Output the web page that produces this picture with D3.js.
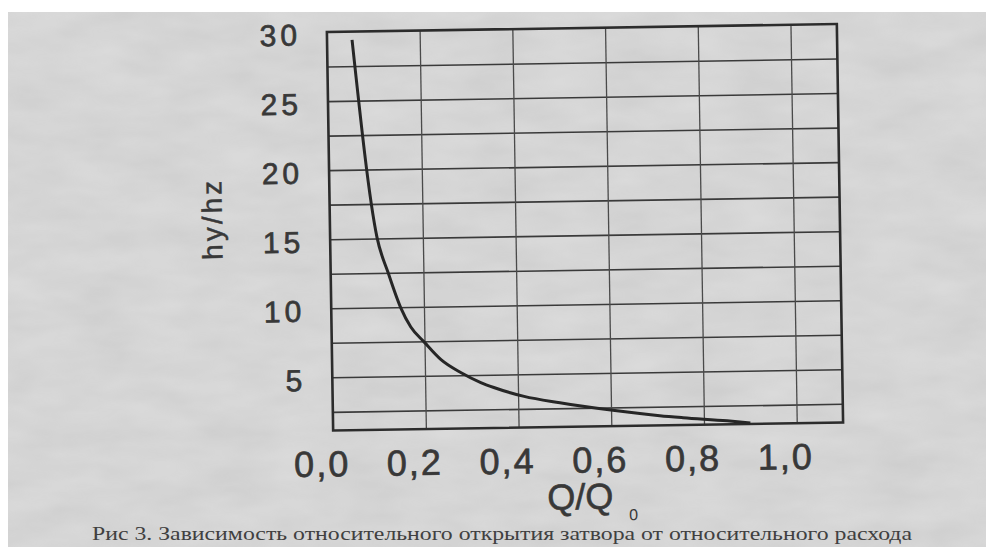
<!DOCTYPE html>
<html>
<head>
<meta charset="utf-8">
<script src="https://cdn.jsdelivr.net/npm/d3@7"></script>
<style>
  body { margin: 0; background: #fff; }
  svg { display: block; }
</style>
</head>
<body>
<svg id="chart" width="986" height="547"></svg>
<script>
/* values */
var qRel = [0.054, 0.101, 0.124, 0.150, 0.171, 0.199, 0.235, 0.278, 0.320, 0.348, 0.413, 0.490, 0.604, 0.705, 0.755, 0.850, 0.900];
var hRel = [29.4, 15.1, 12.5, 9.95, 8.55, 7.46, 6.15, 5.18, 4.45, 4.08, 3.40, 2.90, 2.30, 1.85, 1.68, 1.40, 1.22];

var xTicks = [0, 0.2, 0.4, 0.6, 0.8, 1.0];
var xTickLabels = ["0,0", "0,2", "0,4", "0,6", "0,8", "1,0"];
var yTicks = [5, 10, 15, 20, 25, 30];
var xGrid = [0.2, 0.4, 0.6, 0.8, 1.0];
var yGrid = [2.5, 5, 7.5, 10, 12.5, 15, 17.5, 20, 22.5, 25, 27.5];

var caption = "Рис 3. Зависимость относительного открытия затвора от относительного расхода";

var svg = d3.select("#chart");
var sans = "Liberation Sans, Arial, sans-serif";
var ink = "#383838";

/* paper */
var defs = svg.append("defs");
var flt = defs.append("filter").attr("id", "paper")
    .attr("x", 0).attr("y", 0).attr("width", "100%").attr("height", "100%");
flt.append("feTurbulence").attr("type", "fractalNoise")
    .attr("baseFrequency", "0.015 0.04").attr("numOctaves", 3).attr("seed", 4);
flt.append("feColorMatrix").attr("type", "matrix")
    .attr("values", "0 0 0 0 0.4  0 0 0 0 0.4  0 0 0 0 0.4  0 0 0 0.6 -0.1");

svg.append("rect").attr("width", 986).attr("height", 547).attr("fill", "#fff");
svg.append("rect").attr("x", 8).attr("y", 12).attr("width", 978).attr("height", 535)
    .attr("fill", "#dadada");
svg.append("rect").attr("x", 8).attr("y", 12).attr("width", 978).attr("height", 535)
    .attr("filter", "url(#paper)").attr("opacity", 0.5);

/* whole scan is tilted a little */
var g = svg.append("g").attr("transform", "rotate(-0.9,585,228)");

var x = d3.scaleLinear().domain([0, 1.1]).range([330, 840]);
var y = d3.scaleLinear().domain([1.15, 30]).range([426.5, 28]);

var plotW = x.range()[1] - x.range()[0];
var plotH = y.range()[0] - y.range()[1];

/* grid */
g.append("g")
    .attr("transform", "translate(" + x.range()[0] + ",0)")
    .call(d3.axisLeft(y).tickValues(yGrid).tickSize(-plotW).tickFormat(""))
    .call(function(s){
	s.select(".domain").remove();
	s.selectAll("line").attr("stroke", "#3a3a3a").attr("stroke-width", 1.6);
    });

g.append("g")
    .attr("transform", "translate(0," + y.range()[0] + ")")
    .call(d3.axisBottom(x).tickValues(xGrid).tickSize(-plotH).tickFormat(""))
    .call(function(s){
	s.select(".domain").remove();
	s.selectAll("line").attr("stroke", "#4a4a4a").attr("stroke-width", 1.3);
    });

/* frame */
g.append("rect")
    .attr("x", x.range()[0]).attr("y", y.range()[1])
    .attr("width", plotW).attr("height", plotH)
    .attr("fill", "none").attr("stroke", "#2c2c2c").attr("stroke-width", 2.6);

/* curve */
var line = d3.line()
    .x(function(d){ return x(d[0]); })
    .y(function(d){ return y(d[1]); })
    .curve(d3.curveMonotoneX);

g.append("path")
    .datum(d3.zip(qRel, hRel))
    .attr("d", line)
    .attr("fill", "none")
    .attr("stroke", "#262626")
    .attr("stroke-width", 3)
    .attr("stroke-linejoin", "round");

/* tick labels */
g.append("g")
    .attr("transform", "translate(" + x.range()[0] + ",0)")
    .call(d3.axisLeft(y).tickValues(yTicks).tickSize(0).tickPadding(26))
    .call(function(s){
	s.select(".domain").remove();
	s.selectAll("text")
	    .attr("font-family", sans)
	    .attr("font-size", 30)
	    .attr("letter-spacing", 4)
	    .attr("fill", ink)
	    .attr("stroke", ink).attr("stroke-width", 0.7)
	    .attr("dy", "0.42em");
    });

g.append("g")
    .attr("transform", "translate(0," + y.range()[0] + ")")
    .call(d3.axisBottom(x).tickValues(xTicks).tickSize(0)
	  .tickFormat(function(d, i){ return xTickLabels[i]; }))
    .call(function(s){
	s.select(".domain").remove();
	s.selectAll("text")
	    .attr("font-family", sans)
	    .attr("font-size", 36)
	    .attr("letter-spacing", 2)
	    .attr("fill", ink)
	    .attr("stroke", ink).attr("stroke-width", 0.7)
	    .attr("x", -12)
	    .attr("y", 46)
	    .attr("dy", 0);
    });

/* axis titles */
g.append("text")
    .attr("transform", "translate(222,213) rotate(-90)")
    .attr("text-anchor", "middle")
    .attr("font-family", sans)
    .attr("font-size", 28)
    .attr("letter-spacing", 3)
    .attr("fill", ink)
    .attr("stroke", ink).attr("stroke-width", 0.5)
    .text("hy/hz");

g.append("text")
    .attr("x", 576).attr("y", 509)
    .attr("text-anchor", "middle")
    .attr("font-family", sans)
    .attr("font-size", 36)
    .attr("fill", ink)
    .attr("stroke", ink).attr("stroke-width", 0.6)
    .text("Q/Q");
g.append("text")
    .attr("x", 629).attr("y", 521)
    .attr("text-anchor", "middle")
    .attr("font-family", sans)
    .attr("font-size", 16)
    .attr("fill", ink)
    .text("0");

/* caption sits under the plot, kept level so it stays inside the page */
svg.append("text")
    .attr("x", 92).attr("y", 540)
    .attr("font-family", "Liberation Serif, Times New Roman, serif")
    .attr("font-size", 19)
    .attr("fill", "#404040")
    .attr("textLength", 820)
    .attr("lengthAdjust", "spacingAndGlyphs")
    .text(caption);
</script>
</body>
</html>
